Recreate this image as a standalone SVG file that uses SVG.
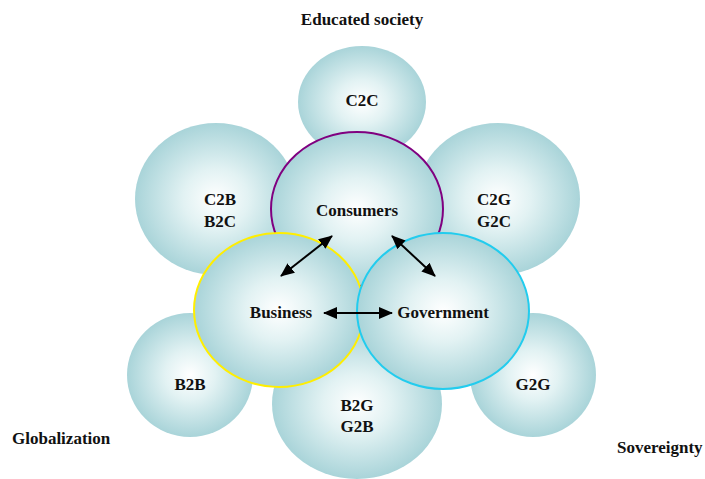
<svg xmlns="http://www.w3.org/2000/svg" width="705" height="479" viewBox="0 0 705 479">
  <style>
    .bubble { fill: url(#bubbleFill); stroke: none; }
    .lbl { font-family: "Liberation Serif", "Times New Roman", serif; font-weight: bold; font-size: 17px; fill: #111; text-anchor: middle; }
    .side { font-family: "Liberation Serif", "Times New Roman", serif; font-weight: bold; font-size: 17px; fill: #111; }
    .link { stroke: #000; stroke-width: 2; fill: none; marker-start: url(#head); marker-end: url(#head); }
  </style>
  <defs>
    <radialGradient id="bubbleFill" cx="50%" cy="50%" r="50%">
      <stop offset="0%" stop-color="#ffffff"/>
      <stop offset="40%" stop-color="#e2f2f3"/>
      <stop offset="100%" stop-color="#a9d4d9"/>
    </radialGradient>
    <marker id="head" viewBox="0 0 14 12" refX="13" refY="6" markerWidth="14" markerHeight="12" markerUnits="userSpaceOnUse" orient="auto-start-reverse">
      <path d="M0,0 L14,6 L0,12 Z" fill="#000"/>
    </marker>
  </defs>

  <!-- outer relationship bubbles -->
  <g id="c2c">
    <ellipse class="bubble" cx="362" cy="102" rx="64" ry="56"/>
    <text class="lbl" x="362" y="106">C2C</text>
  </g>
  <g id="c2b-b2c">
    <ellipse class="bubble" cx="216" cy="199" rx="81" ry="76"/>
    <text class="lbl" x="220" y="205">C2B</text>
    <text class="lbl" x="220" y="227">B2C</text>
  </g>
  <g id="c2g-g2c">
    <ellipse class="bubble" cx="498" cy="199" rx="82" ry="76"/>
    <text class="lbl" x="494" y="205">C2G</text>
    <text class="lbl" x="494" y="227">G2C</text>
  </g>
  <g id="b2b">
    <ellipse class="bubble" cx="190" cy="375" rx="63" ry="62"/>
    <text class="lbl" x="190" y="390">B2B</text>
  </g>
  <g id="g2g">
    <ellipse class="bubble" cx="533" cy="375" rx="63" ry="62"/>
    <text class="lbl" x="533" y="390">G2G</text>
  </g>
  <g id="b2g-g2b">
    <ellipse class="bubble" cx="357" cy="404" rx="85" ry="75"/>
    <text class="lbl" x="357" y="411">B2G</text>
    <text class="lbl" x="357" y="432">G2B</text>
  </g>

  <!-- main actors -->
  <g id="consumers">
    <ellipse class="bubble" cx="357" cy="209" rx="86" ry="77" style="stroke:#800080;stroke-width:2"/>
    <text class="lbl" x="357" y="216">Consumers</text>
  </g>
  <g id="business">
    <ellipse class="bubble" cx="279" cy="310" rx="85" ry="77" style="stroke:#ffee00;stroke-width:2"/>
    <text class="lbl" x="281" y="318">Business</text>
  </g>
  <g id="government">
    <ellipse class="bubble" cx="443" cy="311" rx="86" ry="78" style="stroke:#22ccee;stroke-width:2"/>
    <text class="lbl" x="443" y="318">Government</text>
  </g>

  <!-- interactions -->
  <g id="connectors">
    <line class="link" x1="281" y1="276" x2="332" y2="236"/>
    <line class="link" x1="392" y1="236" x2="435" y2="276"/>
    <line class="link" x1="324" y1="313" x2="392" y2="313"/>
  </g>

  <!-- context labels -->
  <text class="lbl" x="362" y="25">Educated society</text>
  <text class="side" x="12" y="444">Globalization</text>
  <text class="side" x="617" y="453">Sovereignty</text>
</svg>
